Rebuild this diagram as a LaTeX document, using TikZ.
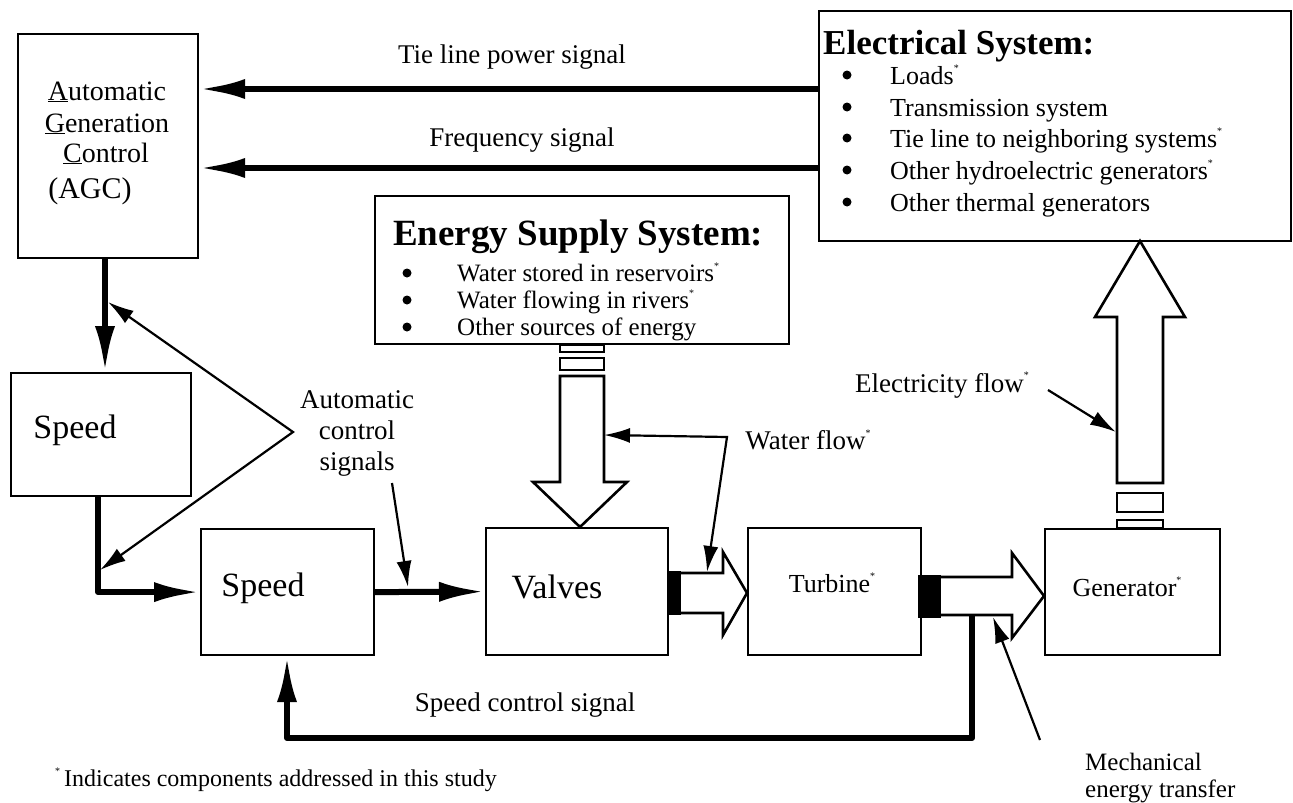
\documentclass[tikz,border=0pt]{standalone}
\usepackage{fontspec}
\setmainfont{Liberation Serif}
\usetikzlibrary{arrows.meta}
\newcommand{\fs}[1]{\fontsize{#1}{#1}\selectfont}
\newcommand{\mk}{\raisebox{0.5em}{\fontsize{10}{10}\selectfont *}}
\begin{document}
\begin{tikzpicture}[x=1pt,y=-1pt,
  box/.style={draw, line width=2.2pt, inner sep=0pt},
  sig/.style={line width=6pt, -{Latex[length=46pt,width=20pt]}},
  ptr/.style={line width=2.2pt, -{Latex[length=26pt,width=15pt]}},
  ptrb/.style={line width=2.2pt, {Latex[length=26pt,width=15pt]}-{Latex[length=26pt,width=15pt]}},
  hollow/.style={draw, line width=2.6pt, fill=white, line join=miter},
  lbl/.style={font=\fs{27}, inner sep=0pt},
  itm/.style={font=\fs{26}, inner sep=0pt, anchor=base west},
  bul/.style={fill, circle, inner sep=0pt, minimum size=9pt},
]
\path[use as bounding box] (0,0) rectangle (1293,803);

% boxes
\node[box, anchor=north west, minimum width=180pt, minimum height=224pt] (agc) at (17,33) {};
\node[box, anchor=north west, minimum width=180pt, minimum height=123pt] (sp1) at (10,372) {};
\node[box, anchor=north west, minimum width=173pt, minimum height=126pt] (sp2) at (200,528) {};
\node[box, anchor=north west, minimum width=182pt, minimum height=127pt] (valves) at (485,527) {};
\node[box, anchor=north west, minimum width=173pt, minimum height=127pt] (turb) at (747,527) {};
\node[box, anchor=north west, minimum width=175pt, minimum height=126pt] (gen) at (1044,528) {};
\node[box, anchor=north west, minimum width=472pt, minimum height=230pt] (elec) at (818,10) {};
\node[box, anchor=north west, minimum width=414pt, minimum height=148pt] (ener) at (374,195) {};

% box texts
\node[lbl, font=\fs{28}, anchor=base] (t1) at (107,100) {\underline{A}utomatic};
\node[lbl, font=\fs{28}, anchor=base] (t2) at (107,132) {\underline{G}eneration};
\node[lbl, font=\fs{28}, anchor=base] (t3) at (106,162) {\underline{C}ontrol};
\node[lbl, font=\fs{30}, anchor=base] (t4) at (90,198) {(AGC)};
\node[lbl, font=\fs{34}] (sp1t) at (75,430) {Speed};
\node[lbl, font=\fs{34}] (sp2t) at (263,588) {Speed};
\node[lbl, font=\fs{34}] (valt) at (557,587) {Valves};
\node[lbl, font=\fs{26}] (turt) at (832,583) {Turbine\mk};
\node[lbl, font=\fs{26}] (gent) at (1127,587) {Generator\mk};

% electrical system
\node[inner sep=0pt, anchor=base west, font=\fs{35}\bfseries] (eh) at (823,54) {Electrical System:};
\foreach \y/\t [count=\i] in {75/{Loads\mk}, 107/{Transmission system}, 138/{Tie line to neighboring systems\mk}, 170/{Other hydroelectric generators\mk}, 202/{Other thermal generators}} {
  \node[bul] (eb\i) at (847,\y) {};
  \node[itm] (ei\i) at (890,\y+9) {\t};
}
% energy supply system
\node[inner sep=0pt, anchor=base west, font=\fs{37}\bfseries] (nh) at (393,245) {Energy Supply System:};
\foreach \y/\t [count=\i] in {273/{Water stored in reservoirs\mk}, 300/{Water flowing in rivers\mk}, 327/{Other sources of energy}} {
  \node[bul] (nb\i) at (407,\y) {};
  \node[itm, font=\fs{25}] (ni\i) at (457,\y+8.5) {\t};
}

% signal arrows
\draw[sig] (elec.west |- 0,89) -- (agc.east |- 0,89);
\draw[sig] (elec.west |- 0,168) -- (agc.east |- 0,168);
\draw[sig] (agc.south -| 105,0) -- (sp1.north -| 105,0);
\draw[sig, line join=round] (sp1.south -| 98,0) |- (sp2.west);
\draw[sig] (sp2.east) -- (valves.west);

% block arrows
\draw[hollow] (560,345) rectangle (604,352);
\draw[hollow] (560,358) rectangle (604,370);
\draw[hollow] (560,376) -- (604,376) -- (604,482) -- (627,482) -- (580,527) -- (533,482) -- (560,482) -- cycle;
\fill (667,571) rectangle (681,615);
\draw[hollow] (681,573) -- (723,573) -- (723,552) -- (747,593) -- (723,635) -- (723,613) -- (681,613);
\fill (918,575) rectangle (941,618);
\draw[hollow] (941,577) -- (1012,577) -- (1012,553) -- (1044,596) -- (1012,638) -- (1012,615) -- (941,615);
\draw[hollow] (1117,493) rectangle (1163,512);
\draw[hollow] (1117,520) rectangle (1163,528);
\draw[hollow] (1117,483) -- (1117,317) -- (1095,317) -- (1140,241) -- (1185,317) -- (1163,317) -- (1163,483) -- cycle;

% feedback
\coordinate (mb) at (972,615);
\draw[sig, line join=round] (mb) -- (972,738) -| (sp2.south -| 287,0);

% pointers
\coordinate (av) at (293,432);
\draw[ptrb] (108,302) -- (av) -- (100,570);
\draw[ptr] (392,483) -- (408,587);
\draw[ptrb] (604,435) -- (727,437) -- (707,572);
\draw[ptr] (1048,390) -- (1116,432);
\draw[ptr] (1040,740) -- (993,617);

% labels
\node[lbl] (l1) at (512,57) {Tie line power signal};
\node[lbl] (l2) at (522,140) {Frequency signal};
\node[lbl, align=center] (l3) at (357,433) {Automatic\\[4pt]control\\[4pt]signals};
\node[lbl] (l4) at (808,440) {Water flow\mk};
\node[lbl] (l5) at (942,385) {Electricity flow\mk};
\node[lbl] (l6) at (525,705) {Speed control signal};
\node[lbl, align=left, anchor=west, font=\fs{25}] (l7) at (1085,778) {Mechanical\\[2pt]energy transfer};
\node[lbl, anchor=west, font=\fs{24}] (l8) at (55,780) {\mk\,Indicates components addressed in this study};
\end{tikzpicture}
\end{document}
